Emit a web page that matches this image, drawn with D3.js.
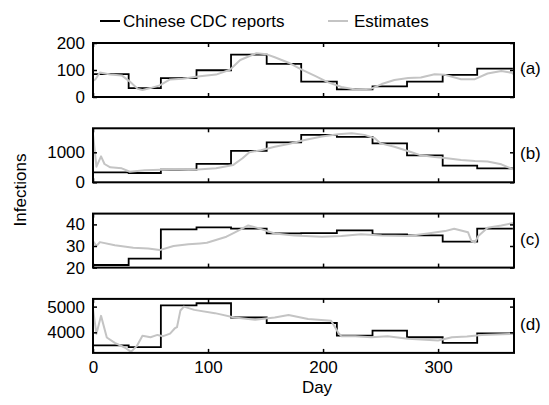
<!DOCTYPE html>
<html>
<head>
<meta charset="utf-8">
<script src="https://cdn.jsdelivr.net/npm/d3@7"></script>
<style>
  body { margin: 0; background: #fff; }
  text { font-family: Arial, "Liberation Sans", sans-serif; }
</style>
</head>
<body>
<script>
'use strict';

// month boundaries (days) for the monthly CDC reports
let monthStarts = [0, 31, 59, 90, 120, 151, 181, 212, 243, 273, 304, 334, 365];

let cdcA = [85, 33, 70, 99, 157, 123, 57, 28, 39, 57, 82, 105];
let cdcB = [330, 310, 420, 614, 1047, 1331, 1581, 1513, 1297, 898, 557, 466];
let cdcC = [21.2, 24.2, 37.7, 38.6, 38.0, 35.8, 36.0, 37.2, 35.4, 34.9, 32.0, 38.0];
let cdcD = [3490, 3425, 5045, 5130, 4577, 4362, 4362, 3873, 4065, 3808, 3592, 3962];

let estDaysA = [0, 2, 6, 15, 25, 32, 39, 43, 50, 58, 67, 78, 93, 107, 119, 128, 142, 151, 158, 170, 181, 193, 204, 216, 228, 242, 251, 262, 274, 285, 297, 306, 320, 332, 343, 355, 364, 366];
let estA = [60, 65, 91, 83, 80, 57, 30, 26, 33, 43, 65, 68, 77, 83, 101, 137, 162, 158, 147, 127, 102, 78, 55, 37, 28, 31, 48, 63, 70, 72, 84, 82, 66, 66, 87, 96, 90, 84];

let estDaysB = [0, 3, 7, 10, 15, 25, 32, 45, 59, 71, 83, 91, 107, 122, 130, 136, 146, 158, 170, 184, 199, 213, 225, 236, 245, 250, 262, 277, 285, 297, 306, 320, 332, 343, 355, 365];
let estB = [1600, 522, 863, 610, 500, 466, 352, 400, 421, 443, 421, 430, 467, 580, 800, 1000, 1070, 1184, 1274, 1411, 1524, 1604, 1638, 1581, 1467, 1297, 1184, 1000, 898, 842, 809, 740, 710, 693, 600, 433];

let estDaysC = [0, 3, 6, 19, 35, 48, 58, 70, 83, 93, 99, 116, 123, 135, 143, 158, 175, 199, 216, 233, 251, 274, 291, 306, 314, 326, 329, 332, 335, 343, 355, 366];
let estC = [32.3, 30.0, 31.8, 30.3, 29.2, 28.8, 28.1, 30.0, 30.8, 31.2, 31.5, 34.3, 36.2, 39.5, 38.4, 35.8, 34.9, 34.3, 34.6, 35.4, 34.9, 34.6, 35.8, 36.9, 38.0, 36.4, 32.3, 31.6, 34.6, 38.4, 39.5, 40.7];

let estDaysD = [0, 3, 7, 12, 19, 28, 33, 38, 43, 50, 56, 61, 67, 71, 73, 76, 79, 88, 106, 123, 141, 152, 158, 170, 187, 207, 213, 216, 228, 242, 256, 274, 300, 312, 325, 338, 366];
let estD = [4900, 3940, 4640, 3800, 3590, 3400, 3240, 3462, 3870, 3810, 3900, 3850, 3950, 4150, 4200, 4850, 5000, 4873, 4746, 4577, 4488, 4550, 4577, 4670, 4515, 4450, 4000, 3846, 3846, 3808, 3846, 3746, 3680, 3810, 3840, 3900, 3938];

let panelLabels = ['(a)', '(b)', '(c)', '(d)'];
let yTicks = [[0, 100, 200], [0, 1000], [20, 30, 40], [4000, 5000]];
let yDomains = [[0, 200], [0, 1800], [20, 45], [3200, 5300]];
let xTicks = [0, 100, 200, 300];

let margin = { left: 93, right: 35, top: 43 };
let plotWidth = 421;
let panelHeight = 54;
let panelStep = 85.3;

let svgContainer = '';

window.onload = function() {
    svgContainer = d3.select('body')
        .append('svg')
        .attr('width', 549)
        .attr('height', 405);

    let panels = [
        { cdc: cdcA, days: estDaysA, est: estA },
        { cdc: cdcB, days: estDaysB, est: estB },
        { cdc: cdcC, days: estDaysC, est: estC },
        { cdc: cdcD, days: estDaysD, est: estD }
    ];

    let xScale = d3.scaleLinear()
        .domain([0, 366])
        .range([0, plotWidth]);

    panels.forEach((p, i) => {
        makePanel(p, i, xScale);
    });

    makeLegend();
    makeLabels();
}

function makePanel(p, i, xScale) {
    let g = svgContainer.append('g')
        .attr('transform', 'translate(' + margin.left + ',' + (margin.top + i * panelStep) + ')');

    let yScale = d3.scaleLinear()
        .domain(yDomains[i])
        .range([panelHeight, 0]);

    // monthly steps: repeat last value at year end
    let stepData = p.cdc.map((v, k) => ({ day: monthStarts[k], val: v }));
    stepData.push({ day: monthStarts[12], val: p.cdc[11] });

    let estData = p.days.map((d, k) => ({ day: d, val: p.est[k] }));

    let stepLine = d3.line()
        .x((d) => xScale(d.day))
        .y((d) => yScale(d.val))
        .curve(d3.curveStepAfter);

    let estLine = d3.line()
        .x((d) => xScale(d.day))
        .y((d) => yScale(d.val));

    g.append('path')
        .datum(stepData)
        .attr('fill', 'none')
        .attr('stroke', '#000')
        .attr('stroke-width', 1.8)
        .attr('d', stepLine);

    g.append('path')
        .datum(estData)
        .attr('fill', 'none')
        .attr('stroke', '#c4c4c4')
        .attr('stroke-width', 2)
        .attr('stroke-linejoin', 'round')
        .attr('d', estLine);

    // inward ticks on all four sides
    let left = d3.axisLeft(yScale).tickValues(yTicks[i]).tickSize(-4).tickPadding(8).tickFormat(d3.format('d'));
    let right = d3.axisRight(yScale).tickValues(yTicks[i]).tickSize(-4).tickFormat('');
    let top = d3.axisTop(xScale).tickValues(xTicks).tickSize(-4).tickFormat('');
    let bottom = d3.axisBottom(xScale).tickValues(xTicks).tickSize(-4).tickPadding(8).tickFormat(d3.format('d'));
    if (i < 3) bottom.tickFormat('');

    g.append('g').call(left);
    g.append('g').attr('transform', 'translate(' + plotWidth + ',0)').call(right);
    g.append('g').call(top);
    g.append('g').attr('transform', 'translate(0,' + panelHeight + ')').call(bottom);

    g.selectAll('.domain').remove();
    g.selectAll('.tick line').attr('stroke', '#000').attr('stroke-width', 1.5);
    g.selectAll('.tick text').style('font-size', '17px').attr('fill', '#000');

    g.append('rect')
        .attr('x', 0)
        .attr('y', 0)
        .attr('width', plotWidth)
        .attr('height', panelHeight)
        .attr('fill', 'none')
        .attr('stroke', '#000')
        .attr('stroke-width', 2);

    g.append('text')
        .attr('x', plotWidth + 6)
        .attr('y', panelHeight / 2 - 2)
        .attr('dy', '0.35em')
        .style('font-size', '17px')
        .text(panelLabels[i]);
}

function makeLegend() {
    svgContainer.append('line')
        .attr('x1', 100).attr('x2', 120)
        .attr('y1', 21).attr('y2', 21)
        .attr('stroke', '#000')
        .attr('stroke-width', 2);
    svgContainer.append('text')
        .attr('x', 123)
        .attr('y', 27)
        .style('font-size', '17px')
        .text('Chinese CDC reports');

    svgContainer.append('line')
        .attr('x1', 328).attr('x2', 348)
        .attr('y1', 21).attr('y2', 21)
        .attr('stroke', '#c4c4c4')
        .attr('stroke-width', 2);
    svgContainer.append('text')
        .attr('x', 354)
        .attr('y', 27)
        .style('font-size', '17px')
        .text('Estimates');
}

function makeLabels() {
    svgContainer.append('text')
        .attr('x', 317)
        .attr('y', 393)
        .attr('text-anchor', 'middle')
        .style('font-size', '17px')
        .text('Day');

    svgContainer.append('text')
        .attr('transform', 'translate(26, 190)rotate(-90)')
        .attr('text-anchor', 'middle')
        .style('font-size', '17px')
        .text('Infections');
}
</script>
</body>
</html>
